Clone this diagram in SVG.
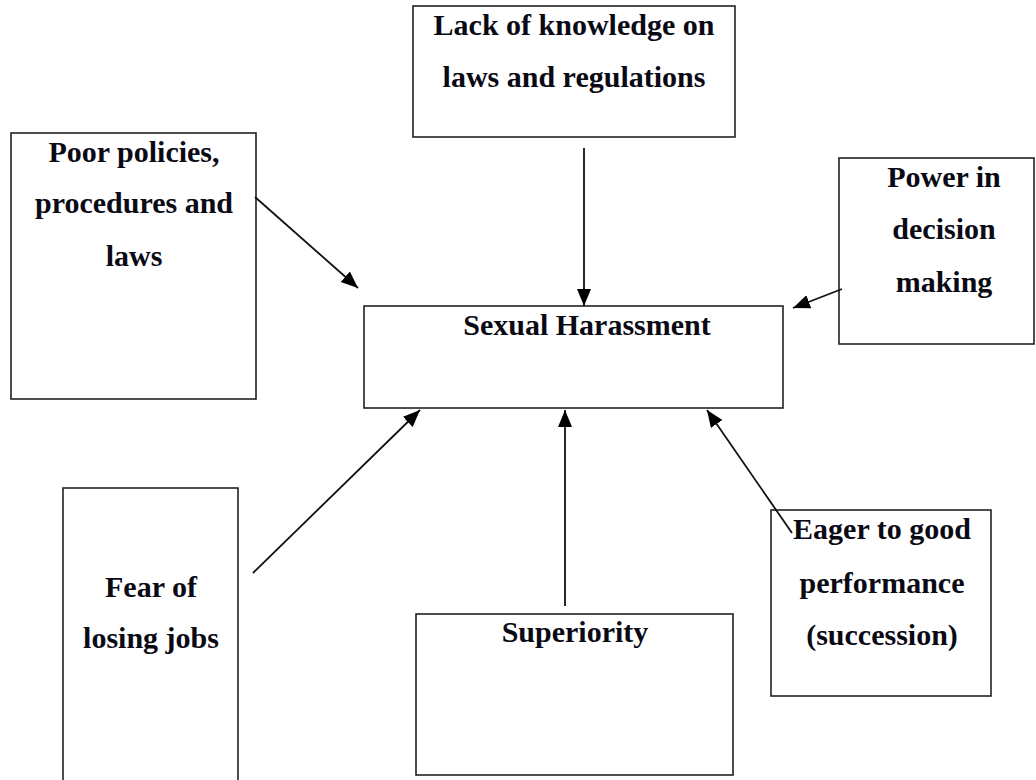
<svg xmlns="http://www.w3.org/2000/svg" width="1036" height="780" viewBox="0 0 1036 780">
<style>
.box{fill:#fff;stroke:#222;stroke-width:1.6}
.t{font-family:"Liberation Serif","Times New Roman",serif;font-weight:bold;font-size:30px;fill:#0a0a14;text-anchor:middle}
.c{stroke:#111;stroke-width:1.8;fill:none;marker-end:url(#ah)}
</style>
<defs>
<marker id="ah" markerUnits="userSpaceOnUse" markerWidth="18" markerHeight="16" refX="17" refY="7" orient="auto">
<path d="M0,0 L17,7 L0,14 z" fill="#000"/>
</marker>
</defs>
<rect width="1036" height="780" fill="#fff"/>
<g id="lack">
<rect class="box" x="413" y="6" width="322" height="131"/>
<text class="t" x="574" y="35">Lack of knowledge on</text>
<text class="t" x="574" y="87">laws and regulations</text>
</g>
<g id="poor">
<rect class="box" x="11" y="133" width="245" height="266"/>
<text class="t" x="134" y="162">Poor policies,</text>
<text class="t" x="134" y="213">procedures and</text>
<text class="t" x="134" y="266">laws</text>
</g>
<g id="power">
<rect class="box" x="839" y="158" width="195" height="186"/>
<text class="t" x="944" y="187">Power in</text>
<text class="t" x="944" y="239">decision</text>
<text class="t" x="944" y="292">making</text>
</g>
<g id="sh">
<rect class="box" x="364" y="306" width="419" height="102"/>
<text class="t" x="587" y="335">Sexual Harassment</text>
</g>
<g id="fear">
<rect class="box" x="63" y="488" width="175" height="300"/>
<text class="t" x="151" y="597">Fear of</text>
<text class="t" x="151" y="648">losing jobs</text>
</g>
<g id="superiority">
<rect class="box" x="416" y="614" width="317" height="161"/>
<text class="t" x="575" y="642">Superiority</text>
</g>
<g id="eager">
<rect class="box" x="771" y="510" width="220" height="186"/>
<text class="t" x="882" y="539">Eager to good</text>
<text class="t" x="882" y="593">performance</text>
<text class="t" x="882" y="645">(succession)</text>
</g>
<g id="connectors">
<line class="c" x1="255" y1="197" x2="358" y2="288"/>
<line class="c" x1="584" y1="148" x2="584" y2="306"/>
<line class="c" x1="842" y1="289" x2="793" y2="308"/>
<line class="c" x1="253" y1="573" x2="420" y2="410"/>
<line class="c" x1="565" y1="606" x2="565" y2="410"/>
<line class="c" x1="792" y1="533" x2="707" y2="410"/>
</g>
</svg>
